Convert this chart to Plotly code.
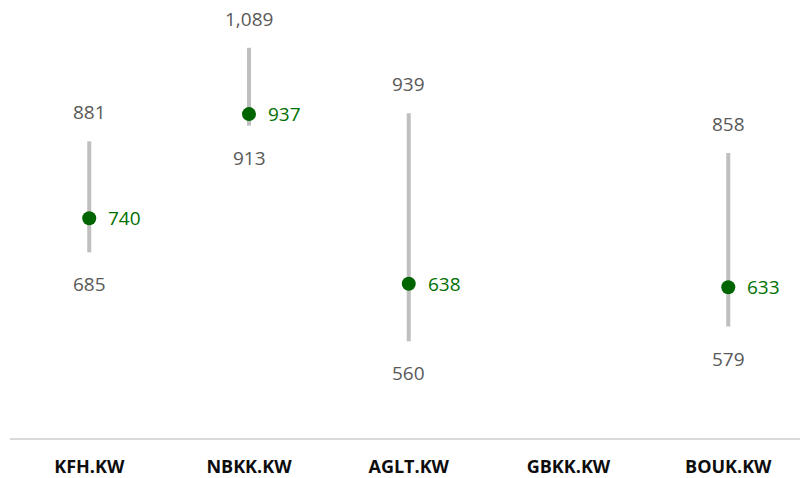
import numpy as np
import plotly.graph_objects as go

categories = ["KFH.KW", "NBKK.KW", "AGLT.KW", "GBKK.KW", "BOUK.KW"]
high_vals = [881, 1089, 939, None, 858]
low_vals = [685, 913, 560, None, 579]
current_vals = [740, 937, 638, None, 633]

BAR = "#bfbfbf"
GREEN_DOT = "#006400"
GREEN_TXT = "#007000"
GRAY_TXT = "#595959"
FONT = "Open Sans"

fig = go.Figure()

# high-low range lines
xs, ys = [], []
for c, lo, hi in zip(categories, low_vals, high_vals):
    if lo is None or hi is None:
        continue
    xs += [c, c, None]
    ys += [lo, hi, None]
fig.add_trace(go.Scatter(x=xs, y=ys, mode="lines",
                         line=dict(color=BAR, width=4),
                         hoverinfo="skip", showlegend=False))

# current value dots
cx = [c for c, v in zip(categories, current_vals) if v is not None]
cy = [v for v in current_vals if v is not None]
fig.add_trace(go.Scatter(x=cx, y=cy, mode="markers",
                         marker=dict(color=GREEN_DOT, size=14),
                         showlegend=False))

annotations = []
for c, lo, hi, cur in zip(categories, low_vals, high_vals, current_vals):
    if hi is not None:
        annotations.append(dict(x=c, y=np.log10(hi), text=f"{hi:,}", showarrow=False,
                                xanchor="center", yanchor="middle", yshift=29,
                                font=dict(family=FONT, size=19, color=GRAY_TXT)))
    if lo is not None:
        annotations.append(dict(x=c, y=np.log10(lo), text=f"{lo:,}", showarrow=False,
                                xanchor="center", yanchor="middle", yshift=-32,
                                font=dict(family=FONT, size=19, color=GRAY_TXT)))
    if cur is not None:
        annotations.append(dict(x=c, y=np.log10(cur), text=f"{cur:,}", showarrow=False,
                                xanchor="left", yanchor="middle", xshift=17,
                                font=dict(family=FONT, size=19, color=GREEN_TXT)))

fig.update_layout(
    width=800, height=478,
    margin=dict(l=10, r=0, t=10, b=40),
    plot_bgcolor="white", paper_bgcolor="white",
    annotations=annotations,
    xaxis=dict(type="category", categoryorder="array", categoryarray=categories,
               range=[-0.496, 4.449], showgrid=False, zeroline=False,
               showline=True, linecolor="#d9d9d9", linewidth=1.5,
               ticks="outside", ticklen=12, tickcolor="rgba(0,0,0,0)",
               automargin=False,
               tickfont=dict(family=FONT, size=18, color="#0d0d0d", weight="bold")),
    yaxis=dict(type="log", range=[2.653, 3.0742], visible=False,
               showgrid=False, zeroline=False, automargin=False),
)

fig.write_html("out.html", config={"displayModeBar": False},
               post_script="document.body.style.margin='0';document.body.style.overflow='hidden';")
